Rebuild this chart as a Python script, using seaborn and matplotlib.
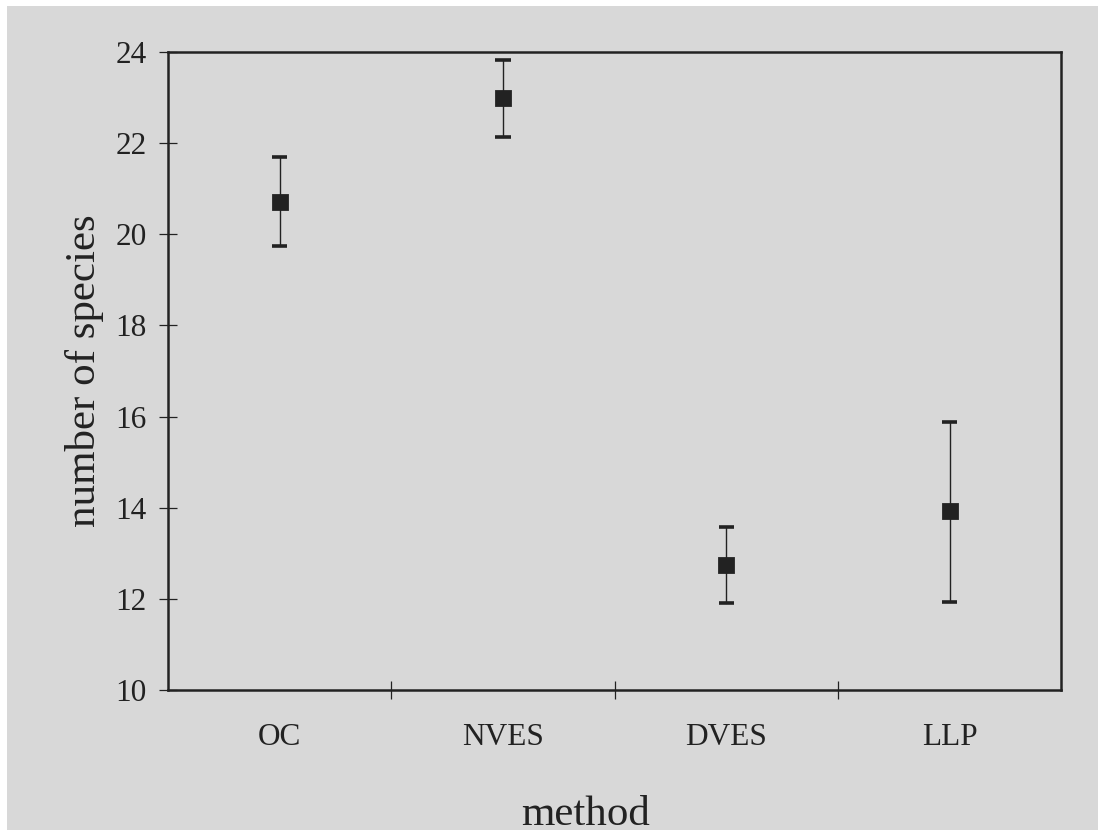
import numpy as np
import pandas as pd
import matplotlib
matplotlib.use("Agg")
import matplotlib.pyplot as plt
from matplotlib.patches import Rectangle
import seaborn as sns

# values
methods = ['OC', 'NVES', 'DVES', 'LLP']
mean_species = [20.71, 23.0, 12.74, 13.93]
lower_bar = [19.75, 22.14, 11.91, 11.94]
upper_bar = [21.69, 23.82, 13.58, 15.89]

# three rows per method: lower end, mean, upper end
df = pd.DataFrame({
    'method': np.repeat(methods, 3),
    'species': np.column_stack([lower_bar, mean_species, upper_bar]).ravel(),
})

sns.set_style('ticks')
plt.rcParams['font.family'] = ['Liberation Serif', 'DejaVu Serif']

ink = '#222222'
bg = '#d8d8d8'

fig = plt.figure(figsize=(10.98, 8.33), dpi=100, facecolor='white')
fig.patches.append(Rectangle((7 / 1098, 3 / 833), 1, (833 - 9) / 833,
                             transform=fig.transFigure, facecolor=bg,
                             edgecolor='none', zorder=-10))
ax = fig.add_axes([0.153, 0.1717, 0.8135, 0.7659])
ax.set_facecolor(bg)

sns.pointplot(data=df, x='method', y='species', order=methods,
              estimator='median', errorbar=lambda v: (v.min(), v.max()),
              linestyle='none', marker='s', markersize=10, color=ink,
              err_kws={'linewidth': 1.0, 'color': ink}, capsize=0, ax=ax)

# thicker caps at the ends of each bar
pos = np.arange(len(methods))
ax.hlines(lower_bar, pos - 0.034, pos + 0.034, color=ink, linewidth=2.6)
ax.hlines(upper_bar, pos - 0.034, pos + 0.034, color=ink, linewidth=2.6)

ax.set_xlim(-0.5, len(methods) - 0.5)
ax.set_ylim(10, 24)
ax.set_yticks(np.arange(10, 25, 2))

# x ticks sit between categories, labels centred under each category
ax.set_xticks(pos[:-1] + 0.5, minor=False)
ax.set_xticklabels([])
ax.set_xticks(pos, minor=True)
ax.set_xticklabels(methods, minor=True)
ax.tick_params(axis='x', which='major', direction='inout', length=13, width=0.9, color=ink)
ax.tick_params(axis='x', which='minor', length=0, pad=24, labelsize=22.5, labelcolor=ink)
ax.tick_params(axis='y', direction='inout', length=13, width=0.9, color=ink,
               pad=9, labelsize=22.5, labelcolor=ink)

for side in ['left', 'right', 'top', 'bottom']:
    ax.spines[side].set_visible(True)
    ax.spines[side].set_linewidth(1.8)
    ax.spines[side].set_color(ink)

ax.set_xlabel('method', fontsize=31, color=ink)
ax.xaxis.set_label_coords(0.467, -0.166)
ax.set_ylabel('number of species', fontsize=31, color=ink)
ax.yaxis.set_label_coords(-0.072, 0.5)

fig.savefig('out.png', dpi=100, facecolor=fig.get_facecolor())
